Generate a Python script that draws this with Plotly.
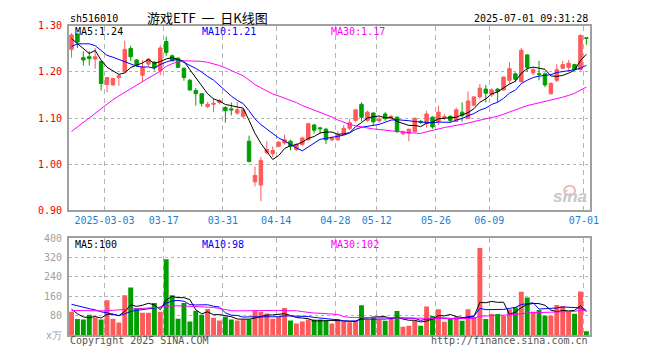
import plotly.graph_objects as go
import pandas as pd

# ---------------- data ----------------
holidays = ["2025-04-04", "2025-05-01", "2025-05-02", "2025-05-05", "2025-06-02"]
dates = [d.strftime("%Y-%m-%d") for d in pd.bdate_range("2025-02-21", "2025-07-01")
         if d.strftime("%Y-%m-%d") not in holidays]

open_ = [1.249, 1.282, 1.231, 1.233, 1.228, 1.223, 1.173, 1.172, 1.188, 1.200,
         1.251, 1.226, 1.193, 1.217, 1.221, 1.203, 1.266, 1.235, 1.230, 1.208,
         1.182, 1.160, 1.153, 1.125, 1.130, 1.134, 1.123, 1.120, 1.111, 1.104,
         1.050, 0.962, 0.955, 1.025, 1.023, 1.039, 1.046, 1.050, 1.032, 1.043,
         1.053, 1.085, 1.079, 1.076, 1.053, 1.053, 1.065, 1.078, 1.095, 1.130,
         1.095, 1.111, 1.094, 1.109, 1.100, 1.102, 1.066, 1.067, 1.071, 1.093,
         1.088, 1.102, 1.092, 1.101, 1.104, 1.093, 1.113, 1.099, 1.128, 1.146,
         1.163, 1.151, 1.163, 1.161, 1.182, 1.196, 1.179, 1.237, 1.198, 1.196,
         1.196, 1.153, 1.182, 1.208, 1.210, 1.216, 1.205, 1.274]
high = [1.284, 1.284, 1.245, 1.245, 1.252, 1.223, 1.188, 1.186, 1.193, 1.268,
        1.257, 1.228, 1.226, 1.230, 1.224, 1.258, 1.277, 1.238, 1.231, 1.210,
        1.185, 1.165, 1.153, 1.135, 1.144, 1.141, 1.126, 1.134, 1.135, 1.120,
        1.062, 0.995, 1.016, 1.050, 1.039, 1.050, 1.064, 1.053, 1.046, 1.060,
        1.090, 1.088, 1.081, 1.079, 1.060, 1.071, 1.085, 1.099, 1.118, 1.134,
        1.116, 1.113, 1.103, 1.113, 1.107, 1.104, 1.073, 1.077, 1.102, 1.096,
        1.116, 1.104, 1.127, 1.109, 1.106, 1.123, 1.134, 1.158, 1.147, 1.174,
        1.172, 1.165, 1.165, 1.190, 1.221, 1.199, 1.252, 1.238, 1.210, 1.224,
        1.199, 1.178, 1.217, 1.224, 1.226, 1.218, 1.282, 1.274]
low = [1.231, 1.252, 1.214, 1.214, 1.207, 1.160, 1.156, 1.170, 1.170, 1.200,
       1.224, 1.212, 1.179, 1.212, 1.203, 1.193, 1.235, 1.224, 1.210, 1.181,
       1.160, 1.127, 1.125, 1.122, 1.113, 1.130, 1.090, 1.106, 1.108, 1.100,
       1.004, 0.952, 0.920, 1.022, 1.016, 1.037, 1.043, 1.030, 1.029, 1.040,
       1.051, 1.067, 1.067, 1.044, 1.050, 1.051, 1.064, 1.074, 1.092, 1.093,
       1.092, 1.085, 1.090, 1.094, 1.098, 1.067, 1.063, 1.050, 1.069, 1.087,
       1.079, 1.077, 1.085, 1.096, 1.090, 1.092, 1.092, 1.099, 1.126, 1.142,
       1.134, 1.146, 1.134, 1.160, 1.175, 1.179, 1.177, 1.200, 1.193, 1.182,
       1.167, 1.151, 1.178, 1.207, 1.200, 1.203, 1.203, 1.259]
close = [1.280, 1.265, 1.226, 1.229, 1.233, 1.175, 1.188, 1.186, 1.192, 1.249,
         1.233, 1.214, 1.210, 1.228, 1.209, 1.252, 1.242, 1.224, 1.210, 1.188,
         1.161, 1.153, 1.132, 1.130, 1.132, 1.138, 1.116, 1.118, 1.118, 1.118,
         1.006, 0.976, 1.008, 1.032, 1.030, 1.048, 1.053, 1.039, 1.043, 1.057,
         1.088, 1.074, 1.077, 1.053, 1.057, 1.064, 1.078, 1.090, 1.118, 1.102,
         1.113, 1.092, 1.098, 1.099, 1.104, 1.071, 1.071, 1.076, 1.099, 1.091,
         1.109, 1.081, 1.113, 1.103, 1.095, 1.118, 1.106, 1.137, 1.146, 1.165,
         1.154, 1.161, 1.158, 1.189, 1.207, 1.184, 1.247, 1.210, 1.205, 1.195,
         1.172, 1.175, 1.205, 1.216, 1.219, 1.205, 1.279, 1.273]
volume = [96, 67, 64, 84, 73, 64, 144, 68, 52, 164,
          196, 112, 92, 92, 132, 96, 312, 164, 68, 132,
          56, 100, 84, 108, 72, 60, 76, 64, 60, 64,
          64, 100, 96, 89, 68, 76, 112, 60, 48, 56,
          64, 64, 64, 60, 48, 64, 56, 53, 59, 123,
          63, 75, 63, 59, 75, 99, 35, 39, 59, 39,
          118, 79, 107, 55, 67, 75, 59, 107, 75, 359,
          67, 87, 87, 79, 107, 115, 179, 155, 96, 104,
          80, 80, 124, 120, 96, 88, 180, 16]

# moving-average values before enough visible history exists
ma5_head = [1.272, 1.262, 1.250, 1.240]
ma10_head = [1.255, 1.261, 1.261, 1.261, 1.257, 1.246, 1.236, 1.232, 1.227]
ma30_head = [1.071, 1.081, 1.091, 1.100, 1.110, 1.121, 1.131, 1.140, 1.148, 1.156,
             1.164, 1.172, 1.179, 1.187, 1.194, 1.202, 1.212, 1.218, 1.222, 1.224,
             1.224, 1.224, 1.223, 1.221, 1.218, 1.214, 1.209, 1.203, 1.196]
vma5_head = [107, 88, 75, 72]
vma10_head = [127, 120, 115, 109, 104, 96, 92, 85, 80]
vma30_head = [102, 101, 101, 100, 100, 100, 101, 102, 103, 105, 107, 108, 110, 112,
              113, 115, 119, 121, 121, 120, 119, 118, 117, 116, 114, 110, 105, 101, 100]

tick_dates = ["2025-03-03", "2025-03-17", "2025-03-31", "2025-04-14", "2025-04-28",
              "2025-05-12", "2025-05-26", "2025-06-09", "2025-07-01"]
tick_text = ["2025-03-03", "03-17", "03-31", "04-14", "04-28", "05-12", "05-26",
             "06-09", "07-01"]
price_ticks = [0.90, 1.00, 1.10, 1.20, 1.30]
vol_ticks = [0, 80, 160, 240, 320, 400]
vol_tick_text = ["x万", "80", "160", "240", "320", "400"]


def moving_avg(vals, n, head):
    out = list(head)
    for i in range(len(head), len(vals)):
        out.append(sum(vals[i - n + 1:i + 1]) / n)
    return out


ma5 = moving_avg(close, 5, ma5_head)
ma10 = moving_avg(close, 10, ma10_head)
ma30 = moving_avg(close, 30, ma30_head)
vma5 = moving_avg(volume, 5, vma5_head)
vma10 = moving_avg(volume, 10, vma10_head)
vma30 = moving_avg(volume, 30, vma30_head)

# ---------------- figure ----------------
RED = "#ff5a5a"
GREEN = "#009f00"
MONO = "DejaVu Sans Mono"
W, H = 660, 360

x = list(range(len(dates)))
vcolors = [RED if c >= o else GREEN for o, c in zip(open_, close)]

fig = go.Figure()
fig.add_trace(go.Candlestick(
    x=x, open=open_, high=high, low=low, close=close,
    increasing=dict(line=dict(color=RED, width=1), fillcolor=RED),
    decreasing=dict(line=dict(color=GREEN, width=1), fillcolor=GREEN),
    whiskerwidth=0, xaxis="x", yaxis="y", hoverinfo="skip"))
for vals, col in [(ma5, "#000000"), (ma10, "#0000ff"), (ma30, "#ff00ff")]:
    fig.add_trace(go.Scatter(x=x, y=vals, mode="lines", line=dict(color=col, width=1),
                             xaxis="x", yaxis="y", hoverinfo="skip"))

fig.add_trace(go.Bar(x=x, y=volume, marker=dict(color=vcolors, line=dict(width=0)),
                     width=0.83, xaxis="x2", yaxis="y2", hoverinfo="skip"))
for vals, col in [(vma5, "#000000"), (vma10, "#0000ff"), (vma30, "#ff00ff")]:
    fig.add_trace(go.Scatter(x=x, y=vals, mode="lines", line=dict(color=col, width=1),
                             xaxis="x2", yaxis="y2", hoverinfo="skip"))

tickpos = [dates.index(d) - 0.42 for d in tick_dates]
xr = [-0.4167, len(dates) - 1 + 0.583]
xdom = [70 / W, 598 / W]

common_x = dict(range=xr, domain=xdom, tickvals=tickpos, showgrid=True,
                gridcolor="#b4b4b4", griddash="5px,4px", gridwidth=1,
                showline=True, mirror=True, linecolor="#a0a0a0", linewidth=2,
                ticks="", zeroline=False, fixedrange=True)

fig.update_layout(
    width=W, height=H, margin=dict(l=0, r=0, t=0, b=0),
    paper_bgcolor="white", plot_bgcolor="white", showlegend=False,
    boxgap=0.16,
    xaxis=dict(**common_x, anchor="y", ticktext=tick_text,
               tickfont=dict(family=MONO, size=10, color="#1a7fd4"),
               rangeslider=dict(visible=False)),
    xaxis2=dict(**common_x, anchor="y2", showticklabels=False),
    yaxis=dict(domain=[1 - 211.5 / H, 1 - 20.5 / H], range=[0.90, 1.30],
               tickvals=price_ticks, ticktext=["%.2f" % v for v in price_ticks],
               tickfont=dict(family=MONO, size=10, color="#ee0000"),
               showgrid=True, gridcolor="#b4b4b4", griddash="dot", gridwidth=1,
               showline=True, mirror=True, linecolor="#a0a0a0", linewidth=2,
               ticks="", zeroline=False, anchor="x", ticklabelstandoff=3),
    yaxis2=dict(domain=[1 - 340.5 / H, 1 - 240 / H], range=[0, 400],
                tickvals=vol_ticks, ticktext=vol_tick_text,
                tickfont=dict(family=MONO, size=10, color="#a0a0a0"),
                showgrid=True, gridcolor="#b4b4b4", griddash="dot", gridwidth=1,
                showline=True, mirror=True, linecolor="#a0a0a0", linewidth=2,
                ticks="", zeroline=False, anchor="x2", ticklabelstandoff=3),
)


def ann(text, px, py, color="#000", size=10, family=MONO, xanchor="left"):
    fig.add_annotation(text=text, x=px / W, y=1 - py / H, xref="paper", yref="paper",
                       xanchor=xanchor, yanchor="middle", showarrow=False,
                       font=dict(family=family, size=size, color=color))


ann("sh516010", 69, 13)
ann("游戏ETF\u00a0\u00a0一\u00a0\u00a0日K线图", 210, 11.5, size=13,
    family="Noto Sans CJK SC", xanchor="center")
ann("2025-07-01 09:31:28", 598, 13, xanchor="right")
ann("MA5:%.2f" % ma5[-1], 74, 26.5)
ann("MA10:%.2f" % ma10[-1], 203, 26.5, color="#0000ff")
ann("MA30:%.2f" % ma30[-1], 334, 26.5, color="#ff00ff")
ann("MA5:%d" % round(vma5[-1]), 74, 247)
ann("MA10:%d" % round(vma10[-1]), 203, 247, color="#0000ff")
ann("MA30:%d" % round(vma30[-1]), 334, 247, color="#ff00ff")
ann("Copyright 2025 SINA.COM", 69, 346, color="#555555")
ann("http://finance.sina.com.cn", 598, 346, color="#555555", xanchor="right")
# sina watermark
ann("<b><i>sina</i></b>", 597, 197, color="#c8c8c8", size=17, family="Liberation Sans",
    xanchor="right")
fig.add_shape(type="circle", xref="paper", yref="paper",
              x0=572 / W, x1=583 / W, y0=1 - 196 / H, y1=1 - 186 / H,
              line=dict(color="#f2b8b8", width=2))

fig.write_html("out.html")
